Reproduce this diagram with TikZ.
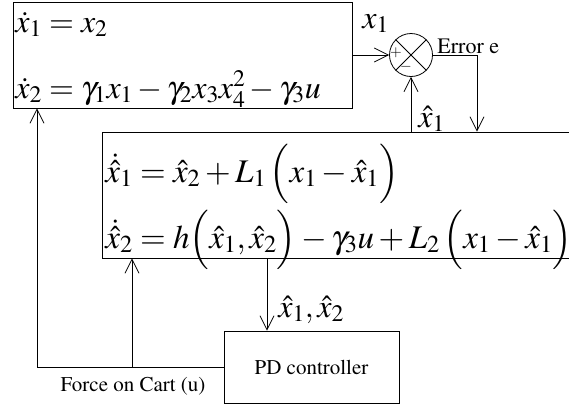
\documentclass[tikz,border=0pt]{standalone}
\usepackage{amsmath}
\usepackage[T1]{fontenc}
\usepackage{mathptmx}
\usetikzlibrary{arrows.meta,positioning}

\begin{document}
\begin{tikzpicture}[
            x=1pt, y=-1pt,
            line width=0.8pt,
            >={Straight Barb[length=14pt,width=14pt]},
            box/.style={draw, rectangle, inner sep=0pt},
            eq/.style={anchor=base west, inner sep=0pt, font=\fontsize{32}{38}\selectfont},
            lbl/.style={inner sep=0pt, font=\fontsize{21}{25}\selectfont},
            sum/.style={draw, circle, minimum size=43pt, inner sep=0pt}
        ]
        \useasboundingbox (0,0) rectangle (569,405);
        \clip (0,0) rectangle (569,405);
        % blocks
        \node[box, minimum width=339pt, minimum height=106pt] (plant) at (182.5,55) {};
        \node[box, minimum width=480pt, minimum height=126pt] (obs) at (342,195) {};
        \node[box, minimum width=175pt, minimum height=72pt] (pd) at (311.5,367) {};
        \node[lbl] (pdtext) at (pd) {PD controller};
        \node[sum] (sum) at (411,55) {};
        \draw (sum.north west) -- (sum.south east) (sum.north east) -- (sum.south west);
        \node[inner sep=0pt, font=\fontsize{15}{18}\selectfont] (plus) at (396,53) {$+$};
        \node[inner sep=0pt, font=\fontsize{15}{18}\selectfont] (minus) at (406,67) {$-$};
        % equations
        \node[eq] (plantone) at (15,32) {$\dot{x}_1 = x_2$};
        \node[eq] (planttwo) at (15,98) {$\dot{x}_2 = \gamma_1 x_1 - \gamma_2 x_3 x_4^2 - \gamma_3 u$};
        \node[eq, font=\fontsize{33}{39}\selectfont] (obsone) at (105,182) {$\dot{\hat{x}}_1 = \hat{x}_2 + L_1\,\Bigl(x_1 - \hat{x}_1\Bigr)$};
        \node[eq, font=\fontsize{33}{39}\selectfont] (obstwo) at (105,248) {$\dot{\hat{x}}_2 = h\Bigl(\hat{x}_1,\hat{x}_2\Bigr) - \gamma_3 u + L_2\,\Bigl(x_1 - \hat{x}_1\Bigr)$};
        % signals
        \coordinate (errcorner) at (477,55);
        \coordinate (pdin) at (267,367);
        \coordinate (fbcorner) at (37,367);
        \coordinate (fbtap) at (132,367);
        \draw[->] (plant.east |- sum.west) -- (sum.west);
        \draw (sum.east) -- (errcorner);
        \draw[->] (errcorner) -- (errcorner |- obs.north);
        \draw[->] (sum.south |- obs.north) -- (sum.south);
        \draw[->] (pdin |- obs.south) -- (pdin |- pd.north);
        \draw[->] (pd.west) -- (fbcorner) -- (fbcorner |- plant.south);
        \draw[->] (fbtap) -- (fbtap |- obs.south);
        % labels
        \node[eq] (xonelbl) at (362,28) {$x_1$};
        \node[lbl, anchor=base west, font=\fontsize{22}{26}\selectfont] (errlbl) at (437,53) {Error e};
        \node[eq] (xhatlbl) at (418,127) {$\hat{x}_1$};
        \node[eq] (xhatslbl) at (278,317) {$\hat{x}_1,\hat{x}_2$};
        \node[lbl, anchor=base] (forcelbl) at (133,391) {Force on Cart (u)};
    \end{tikzpicture}
\end{document}
